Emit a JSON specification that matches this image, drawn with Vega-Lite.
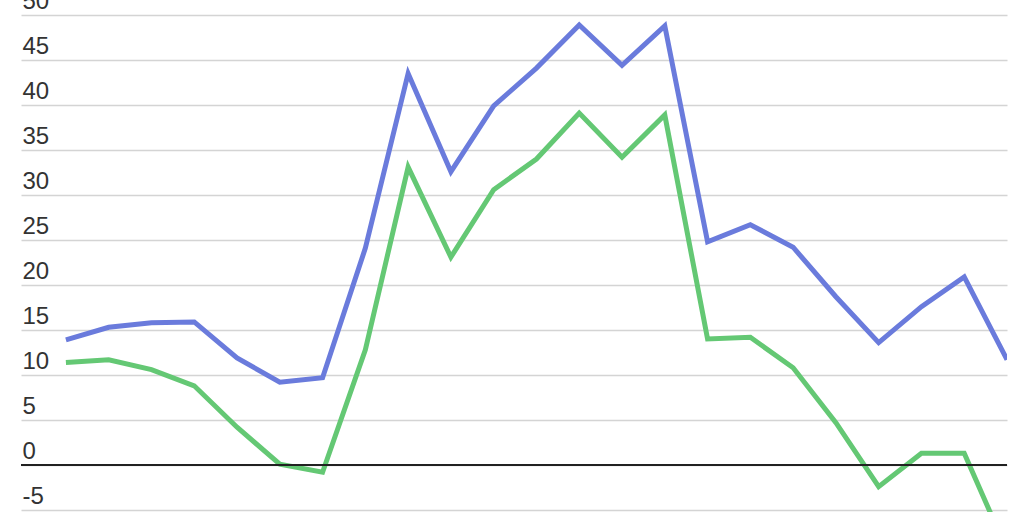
{
  "$schema": "https://vega.github.io/schema/vega-lite/v6.json",
  "autosize": {"type": "none"},
  "width": 986,
  "height": 512,
  "padding": {"left": 21, "top": 0, "right": 17, "bottom": 0},
  "background": "white",
  "config": {"view": {"stroke": null}, "font": "Liberation Sans"},
  "data": {"values": [
    {"t": 0, "s": "A", "v": 13.9}, {"t": 1, "s": "A", "v": 15.3}, {"t": 2, "s": "A", "v": 15.8}, {"t": 3, "s": "A", "v": 15.9},
    {"t": 4, "s": "A", "v": 11.9}, {"t": 5, "s": "A", "v": 9.2}, {"t": 6, "s": "A", "v": 9.7}, {"t": 7, "s": "A", "v": 24.1},
    {"t": 8, "s": "A", "v": 43.5}, {"t": 9, "s": "A", "v": 32.6}, {"t": 10, "s": "A", "v": 39.9}, {"t": 11, "s": "A", "v": 44.1},
    {"t": 12, "s": "A", "v": 48.9}, {"t": 13, "s": "A", "v": 44.4}, {"t": 14, "s": "A", "v": 48.8}, {"t": 15, "s": "A", "v": 24.8},
    {"t": 16, "s": "A", "v": 26.7}, {"t": 17, "s": "A", "v": 24.2}, {"t": 18, "s": "A", "v": 18.7}, {"t": 19, "s": "A", "v": 13.6},
    {"t": 20, "s": "A", "v": 17.6}, {"t": 21, "s": "A", "v": 20.9}, {"t": 22, "s": "A", "v": 11.7},
    {"t": 0, "s": "B", "v": 11.4}, {"t": 1, "s": "B", "v": 11.7}, {"t": 2, "s": "B", "v": 10.6}, {"t": 3, "s": "B", "v": 8.8},
    {"t": 4, "s": "B", "v": 4.2}, {"t": 5, "s": "B", "v": 0.1}, {"t": 6, "s": "B", "v": -0.8}, {"t": 7, "s": "B", "v": 12.8},
    {"t": 8, "s": "B", "v": 33.1}, {"t": 9, "s": "B", "v": 23.1}, {"t": 10, "s": "B", "v": 30.6}, {"t": 11, "s": "B", "v": 34.0},
    {"t": 12, "s": "B", "v": 39.1}, {"t": 13, "s": "B", "v": 34.2}, {"t": 14, "s": "B", "v": 38.9}, {"t": 15, "s": "B", "v": 14.0},
    {"t": 16, "s": "B", "v": 14.2}, {"t": 17, "s": "B", "v": 10.8}, {"t": 18, "s": "B", "v": 4.7}, {"t": 19, "s": "B", "v": -2.4},
    {"t": 20, "s": "B", "v": 1.3}, {"t": 21, "s": "B", "v": 1.3}, {"t": 22, "s": "B", "v": -9.5}
  ]},
  "layer": [
    {
      "mark": {"type": "line", "strokeWidth": 5, "strokeJoin": "miter", "strokeCap": "butt", "clip": true},
      "encoding": {
        "x": {"field": "t", "type": "quantitative", "scale": {"domain": [-1.05, 22], "nice": false, "zero": false}, "axis": null},
        "y": {"field": "v", "type": "quantitative",
          "scale": {"domain": [-5.22, 51.67], "nice": false, "zero": false},
          "axis": {"title": null, "values": [-5, 0, 5, 10, 15, 20, 25, 30, 35, 40, 45, 50],
            "domain": false, "ticks": false, "grid": true, "gridColor": "#d4d4d4", "gridWidth": 1.5,
            "labelAlign": "left", "labelBaseline": "alphabetic", "labelPadding": -1, "labelOffset": -7,
            "labelFontSize": 24, "labelColor": "#333333", "labelOverlap": false, "labelBound": false,
            "labelFlush": false, "labelExpr": "'' + datum.value"}},
        "color": {"field": "s", "type": "nominal", "scale": {"domain": ["A", "B"], "range": ["#6a7bdc", "#64c874"]}, "legend": null}
      }
    },
    {
      "mark": {"type": "rule", "color": "#222222", "strokeWidth": 1.5},
      "encoding": {"y": {"datum": 0}}
    }
  ]
}
